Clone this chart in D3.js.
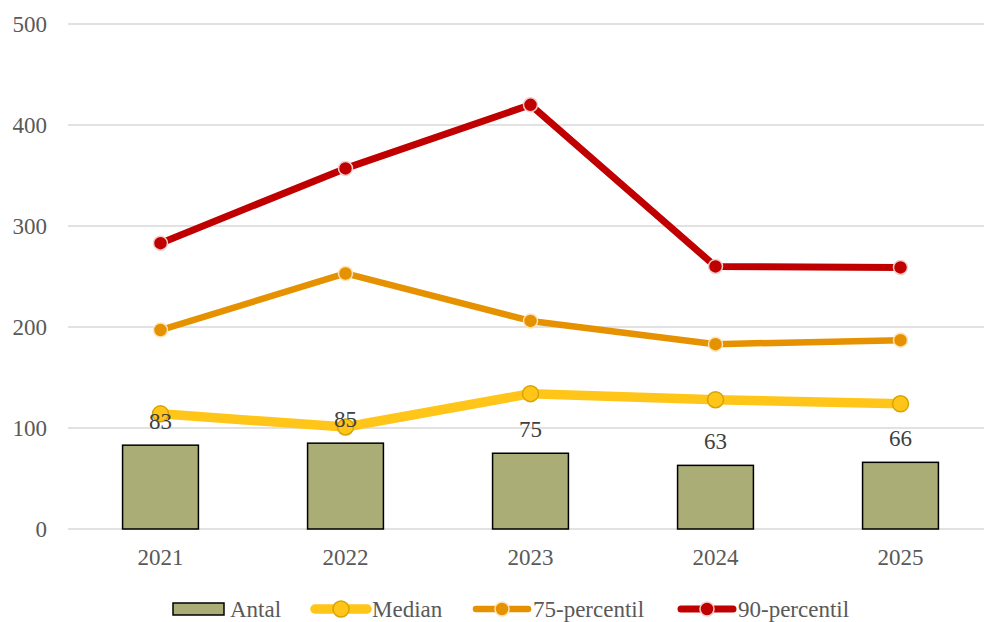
<!DOCTYPE html>
<html>
<head>
<meta charset="utf-8">
<script src="https://cdn.jsdelivr.net/npm/d3@7"></script>
<style>
  body { margin: 0; background: #fff; }
  svg { display: block; font-family: "Liberation Serif", "Times New Roman", serif; }
</style>
</head>
<body>
<div id="chart"></div>
<script>
const years = ["2021", "2022", "2023", "2024", "2025"];
const antal = [83, 85, 75, 63, 66];
const median = [114, 101, 134, 128, 124];
const p75 = [197, 253, 206, 183, 187];
const p90 = [283, 357, 420, 260, 259];
const yTicks = [0, 100, 200, 300, 400, 500];

const width = 984, height = 622;
const margin = { top: 24, right: -9, bottom: 93, left: 68 };
const fontSize = 23;

const svg = d3.select("#chart").append("svg")
  .attr("width", width)
  .attr("height", height);

const x = d3.scaleBand()
  .domain(years)
  .range([margin.left, width - margin.right])
  .paddingInner(0.59)
  .paddingOuter(0.295);

const y = d3.scaleLinear()
  .domain([0, 500])
  .range([height - margin.bottom, margin.top]);

const cx = d => x(d) + x.bandwidth() / 2;

// grid
svg.append("g")
  .selectAll("line")
  .data(yTicks)
  .enter().append("line")
  .attr("x1", margin.left)
  .attr("x2", width)
  .attr("y1", d => y(d))
  .attr("y2", d => y(d))
  .attr("stroke", "#d9d9d9")
  .attr("stroke-width", 1.5);

// y axis labels
svg.append("g")
  .selectAll("text")
  .data(yTicks)
  .enter().append("text")
  .attr("x", 47)
  .attr("y", d => y(d))
  .attr("dy", "0.35em")
  .attr("text-anchor", "end")
  .attr("font-size", fontSize)
  .attr("fill", "#595959")
  .text(d => d);

// x axis labels
svg.append("g")
  .selectAll("text")
  .data(years)
  .enter().append("text")
  .attr("x", d => cx(d))
  .attr("y", 557)
  .attr("dy", "0.35em")
  .attr("text-anchor", "middle")
  .attr("font-size", fontSize)
  .attr("fill", "#595959")
  .text(d => d);

// bars
svg.append("g")
  .selectAll("rect")
  .data(antal)
  .enter().append("rect")
  .attr("x", (d, i) => x(years[i]))
  .attr("y", d => y(d))
  .attr("width", x.bandwidth())
  .attr("height", d => y(0) - y(d))
  .attr("fill", "#abad76")
  .attr("stroke", "#000")
  .attr("stroke-width", 1.5);

const series = [
  { name: "Median", values: median, color: "#ffc518", width: 9.5, r: 8, stroke: "#d9a300", sw: 1.5, lx: 312 },
  { name: "75-percentil", values: p75, color: "#e69100", width: 6.5, r: 7, stroke: "#fde3b8", sw: 1.5, lx: 473 },
  { name: "90-percentil", values: p90, color: "#c00000", width: 7, r: 7, stroke: "#f6cccc", sw: 1.5, lx: 678 }
];

const line = d3.line()
  .x((d, i) => cx(years[i]))
  .y(d => y(d));

series.forEach(s => {
  svg.append("path")
    .datum(s.values)
    .attr("d", line)
    .attr("fill", "none")
    .attr("stroke", s.color)
    .attr("stroke-width", s.width)
    .attr("stroke-linejoin", "round");

  svg.append("g")
    .selectAll("circle")
    .data(s.values)
    .enter().append("circle")
    .attr("cx", (d, i) => cx(years[i]))
    .attr("cy", d => y(d))
    .attr("r", s.r)
    .attr("fill", s.color)
    .attr("stroke", s.stroke)
    .attr("stroke-width", s.sw);
});

// bar data labels
svg.append("g")
  .selectAll("text")
  .data(antal)
  .enter().append("text")
  .attr("x", (d, i) => cx(years[i]))
  .attr("y", d => y(d) - 24)
  .attr("dy", "0.35em")
  .attr("text-anchor", "middle")
  .attr("font-size", fontSize)
  .attr("fill", "#404040")
  .text(d => d);

// legend
const legendY = 609;
const legend = svg.append("g");

legend.append("rect")
  .attr("x", 173).attr("y", legendY - 6)
  .attr("width", 51).attr("height", 12)
  .attr("fill", "#abad76").attr("stroke", "#000").attr("stroke-width", 1.5);
legend.append("text")
  .attr("x", 230).attr("y", legendY).attr("dy", "0.35em")
  .attr("font-size", fontSize).attr("fill", "#595959").text("Antal");

series.forEach(s => {
  const g = legend.append("g");
  g.append("line")
    .attr("x1", s.lx + 3).attr("x2", s.lx + 55)
    .attr("y1", legendY).attr("y2", legendY)
    .attr("stroke", s.color).attr("stroke-width", s.width)
    .attr("stroke-linecap", "round");
  g.append("circle")
    .attr("cx", s.lx + 29).attr("cy", legendY)
    .attr("r", s.r)
    .attr("fill", s.color).attr("stroke", s.stroke).attr("stroke-width", s.sw);
  g.append("text")
    .attr("x", s.lx + 60).attr("y", legendY).attr("dy", "0.35em")
    .attr("font-size", fontSize).attr("fill", "#595959").text(s.name);
});
</script>
</body>
</html>
